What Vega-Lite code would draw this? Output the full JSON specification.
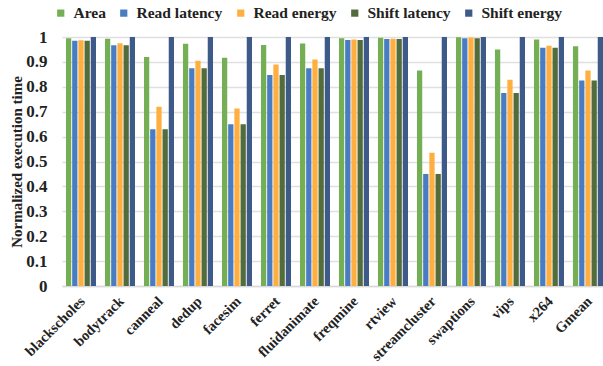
{
  "$schema": "https://vega.github.io/schema/vega-lite/v6.json",
  "width": 541,
  "height": 249,
  "autosize": {"type": "none"},
  "padding": {"left": 62, "top": 37, "right": 0, "bottom": 80},
  "background": "white",
  "data": {
    "values": [
      {"bench": "blackscholes", "metric": "Area", "value": 0.995},
      {"bench": "blackscholes", "metric": "Read latency", "value": 0.985},
      {"bench": "blackscholes", "metric": "Read energy", "value": 0.987},
      {"bench": "blackscholes", "metric": "Shift latency", "value": 0.985},
      {"bench": "blackscholes", "metric": "Shift energy", "value": 1.0},
      {"bench": "bodytrack", "metric": "Area", "value": 0.993},
      {"bench": "bodytrack", "metric": "Read latency", "value": 0.967},
      {"bench": "bodytrack", "metric": "Read energy", "value": 0.975},
      {"bench": "bodytrack", "metric": "Shift latency", "value": 0.967},
      {"bench": "bodytrack", "metric": "Shift energy", "value": 1.0},
      {"bench": "canneal", "metric": "Area", "value": 0.92},
      {"bench": "canneal", "metric": "Read latency", "value": 0.63},
      {"bench": "canneal", "metric": "Read energy", "value": 0.72},
      {"bench": "canneal", "metric": "Shift latency", "value": 0.63},
      {"bench": "canneal", "metric": "Shift energy", "value": 1.0},
      {"bench": "dedup", "metric": "Area", "value": 0.973},
      {"bench": "dedup", "metric": "Read latency", "value": 0.875},
      {"bench": "dedup", "metric": "Read energy", "value": 0.905},
      {"bench": "dedup", "metric": "Shift latency", "value": 0.875},
      {"bench": "dedup", "metric": "Shift energy", "value": 1.0},
      {"bench": "facesim", "metric": "Area", "value": 0.917},
      {"bench": "facesim", "metric": "Read latency", "value": 0.65},
      {"bench": "facesim", "metric": "Read energy", "value": 0.713},
      {"bench": "facesim", "metric": "Shift latency", "value": 0.65},
      {"bench": "facesim", "metric": "Shift energy", "value": 1.0},
      {"bench": "ferret", "metric": "Area", "value": 0.968},
      {"bench": "ferret", "metric": "Read latency", "value": 0.847},
      {"bench": "ferret", "metric": "Read energy", "value": 0.89},
      {"bench": "ferret", "metric": "Shift latency", "value": 0.847},
      {"bench": "ferret", "metric": "Shift energy", "value": 1.0},
      {"bench": "fluidanimate", "metric": "Area", "value": 0.974},
      {"bench": "fluidanimate", "metric": "Read latency", "value": 0.875},
      {"bench": "fluidanimate", "metric": "Read energy", "value": 0.91},
      {"bench": "fluidanimate", "metric": "Shift latency", "value": 0.875},
      {"bench": "fluidanimate", "metric": "Shift energy", "value": 1.0},
      {"bench": "freqmine", "metric": "Area", "value": 0.995},
      {"bench": "freqmine", "metric": "Read latency", "value": 0.988},
      {"bench": "freqmine", "metric": "Read energy", "value": 0.99},
      {"bench": "freqmine", "metric": "Shift latency", "value": 0.988},
      {"bench": "freqmine", "metric": "Shift energy", "value": 1.0},
      {"bench": "rtview", "metric": "Area", "value": 0.997},
      {"bench": "rtview", "metric": "Read latency", "value": 0.992},
      {"bench": "rtview", "metric": "Read energy", "value": 0.993},
      {"bench": "rtview", "metric": "Shift latency", "value": 0.992},
      {"bench": "rtview", "metric": "Shift energy", "value": 1.0},
      {"bench": "streamcluster", "metric": "Area", "value": 0.865},
      {"bench": "streamcluster", "metric": "Read latency", "value": 0.45},
      {"bench": "streamcluster", "metric": "Read energy", "value": 0.535},
      {"bench": "streamcluster", "metric": "Shift latency", "value": 0.45},
      {"bench": "streamcluster", "metric": "Shift energy", "value": 1.0},
      {"bench": "swaptions", "metric": "Area", "value": 0.999},
      {"bench": "swaptions", "metric": "Read latency", "value": 0.995},
      {"bench": "swaptions", "metric": "Read energy", "value": 0.998},
      {"bench": "swaptions", "metric": "Shift latency", "value": 0.995},
      {"bench": "swaptions", "metric": "Shift energy", "value": 1.0},
      {"bench": "vips", "metric": "Area", "value": 0.95},
      {"bench": "vips", "metric": "Read latency", "value": 0.775},
      {"bench": "vips", "metric": "Read energy", "value": 0.828},
      {"bench": "vips", "metric": "Shift latency", "value": 0.775},
      {"bench": "vips", "metric": "Shift energy", "value": 1.0},
      {"bench": "x264", "metric": "Area", "value": 0.99},
      {"bench": "x264", "metric": "Read latency", "value": 0.957},
      {"bench": "x264", "metric": "Read energy", "value": 0.965},
      {"bench": "x264", "metric": "Shift latency", "value": 0.957},
      {"bench": "x264", "metric": "Shift energy", "value": 1.0},
      {"bench": "Gmean", "metric": "Area", "value": 0.963},
      {"bench": "Gmean", "metric": "Read latency", "value": 0.825},
      {"bench": "Gmean", "metric": "Read energy", "value": 0.865},
      {"bench": "Gmean", "metric": "Shift latency", "value": 0.825},
      {"bench": "Gmean", "metric": "Shift energy", "value": 1.0}
    ]
  },
  "mark": {"type": "bar"},
  "encoding": {
    "x": {
      "field": "bench",
      "type": "nominal",
      "sort": ["blackscholes", "bodytrack", "canneal", "dedup", "facesim", "ferret", "fluidanimate", "freqmine", "rtview", "streamcluster", "swaptions", "vips", "x264", "Gmean"],
      "scale": {"paddingInner": 0.23, "paddingOuter": 0.051, "align": 1},
      "axis": {
        "title": null,
        "labelAngle": -45,
        "labelFont": "Liberation Serif",
        "labelFontWeight": "bold",
        "labelFontSize": 14.5,
        "labelColor": "#222222",
        "labelPadding": 8,
        "labelOffset": -3,
        "ticks": false,
        "domainColor": "#d9d9d9",
        "domainWidth": 1.5,
        "grid": false
      }
    },
    "xOffset": {
      "field": "metric",
      "type": "nominal",
      "sort": ["Area", "Read latency", "Read energy", "Shift latency", "Shift energy"],
      "scale": {"paddingInner": 0.15, "paddingOuter": 0}
    },
    "y": {
      "field": "value",
      "type": "quantitative",
      "scale": {"domain": [0, 1], "nice": false},
      "axis": {
        "title": "Normalized execution time",
        "titleFont": "Liberation Serif",
        "titleFontWeight": "bold",
        "titleFontSize": 15,
        "titleColor": "#222222",
        "titlePadding": 1,
        "values": [0, 0.1, 0.2, 0.3, 0.4, 0.5, 0.6, 0.7, 0.8, 0.9, 1],
        "labelExpr": "datum.value == 0 ? '0' : datum.value == 1 ? '1' : format(datum.value, '.1f')",
        "labelFont": "Liberation Serif",
        "labelFontWeight": "bold",
        "labelFontSize": 17,
        "labelColor": "#222222",
        "labelPadding": 15,
        "ticks": false,
        "domain": false,
        "gridColor": "#e0e0e0",
        "gridWidth": 1.5
      }
    },
    "color": {
      "field": "metric",
      "type": "nominal",
      "sort": ["Area", "Read latency", "Read energy", "Shift latency", "Shift energy"],
      "scale": {
        "domain": ["Area", "Read latency", "Read energy", "Shift latency", "Shift energy"],
        "range": ["#74AF55", "#4A7CC3", "#FFAF40", "#536C3C", "#3E5A88"]
      },
      "legend": {
        "title": null,
        "orient": "none",
        "direction": "horizontal",
        "legendX": -9,
        "legendY": -32,
        "symbolType": "square",
        "symbolSize": 52,
        "symbolStrokeWidth": 0,
        "labelFont": "Liberation Serif",
        "labelFontWeight": "bold",
        "labelFontSize": 15.5,
        "labelColor": "#222222",
        "labelOffset": 5,
        "columnPadding": 10
      }
    }
  },
  "config": {"view": {"stroke": null}}
}
